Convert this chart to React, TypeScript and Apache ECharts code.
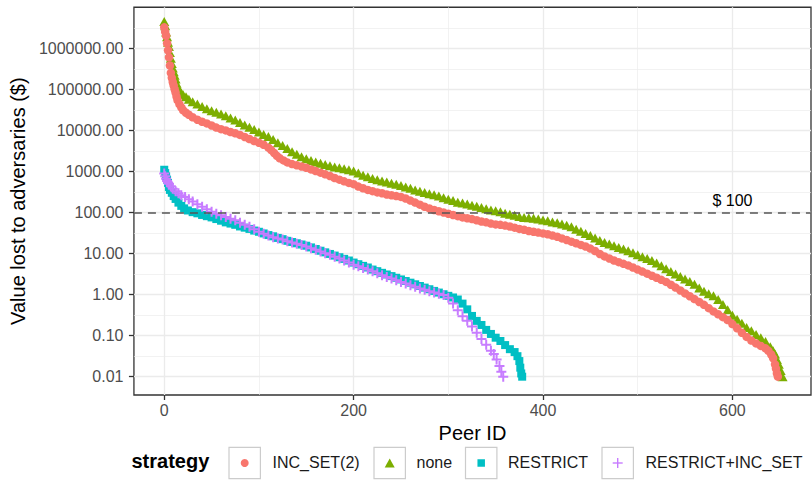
import React, { useEffect, useRef } from "react";
import * as echarts from "echarts";

// ---- data (Peer ID, value lost to adversaries in $) ----
const strategies = ["INC_SET(2)", "none", "RESTRICT", "RESTRICT+INC_SET"];
const strategyColors = ["#F8766D", "#7CAE00", "#00BFC4", "#C77CFF"];

const incSetData: [number, number][] = [
  [0, 3240000], [1, 2510000], [2, 2000000], [3, 1320000], [4, 891000], [5, 603000], [6, 380000], [7, 251000],
  [8, 191000], [9, 151000], [10, 123000], [11, 100000], [12, 83200], [13, 66100], [14, 55000], [16, 43700],
  [18, 36300], [20, 30900], [23, 26900], [26, 24000], [30, 20900], [35, 18200], [40, 16200], [45, 14800],
  [50, 13200], [55, 11700], [60, 10700], [65, 10000], [70, 9120], [75, 8510], [80, 7760], [85, 6920],
  [90, 6170], [95, 5500], [100, 5010], [105, 4470], [110, 3800], [113, 3310], [116, 2820], [119, 2400],
  [122, 2090], [126, 1860], [130, 1660], [135, 1510], [140, 1410], [145, 1320], [150, 1230], [155, 1120],
  [160, 1020], [165, 933], [170, 851], [175, 776], [180, 692], [185, 631], [190, 575], [195, 525], [200, 490],
  [205, 427], [210, 389], [215, 355], [220, 331], [225, 309], [230, 295], [235, 275], [240, 263], [245, 251],
  [250, 240], [255, 219], [260, 195], [265, 174], [270, 155], [275, 138], [280, 126], [285, 115],
  [290, 107], [295, 100], [300, 93.3], [305, 87.1], [310, 81.3], [315, 75.9], [320, 72.4], [325, 69.2],
  [330, 64.6], [335, 60.3], [340, 57.5], [345, 53.7], [350, 51.3], [355, 50.1], [360, 47.9], [365, 45.7],
  [370, 42.7], [375, 39.8], [380, 38.0], [385, 35.5], [390, 33.9], [395, 32.4], [400, 30.9], [405, 29.5],
  [410, 27.5], [415, 25.7], [420, 23.4], [425, 21.4], [430, 19.5], [435, 17.8], [440, 16.2], [445, 14.8],
  [450, 13.2], [455, 11.5], [460, 9.77], [465, 8.51], [470, 7.59], [475, 6.76], [480, 6.17], [485, 5.62],
  [490, 5.13], [495, 4.57], [500, 4.07], [505, 3.63], [510, 3.24], [515, 2.88], [520, 2.57], [525, 2.29],
  [530, 2.04], [535, 1.74], [540, 1.48], [545, 1.26], [550, 1.07], [555, 0.912], [560, 0.776], [565, 0.661],
  [570, 0.562], [575, 0.468], [580, 0.389], [585, 0.331], [590, 0.282], [595, 0.24], [600, 0.191], [605, 0.151],
  [610, 0.117], [615, 0.0933], [620, 0.0759], [625, 0.0646], [630, 0.0562], [635, 0.049], [638, 0.0427],
  [641, 0.0347], [643, 0.0282], [645, 0.02], [646, 0.0158], [647, 0.012], [648, 0.01],
];

const noneData: [number, number][] = [
  [0, 4470000], [1, 3550000], [2, 2510000], [3, 1910000], [4, 1410000], [5, 1100000], [6, 794000], [7, 575000],
  [8, 427000], [9, 331000], [10, 269000], [11, 219000], [12, 178000], [13, 141000], [14, 115000], [16, 95500],
  [18, 83200], [20, 74100], [23, 66100], [26, 57500], [30, 50100], [35, 43700], [40, 38000], [45, 33900],
  [50, 30200], [55, 27500], [60, 25100], [65, 22900], [70, 20000], [75, 17800], [80, 15500], [85, 13500],
  [90, 12000], [95, 10500], [100, 9120], [105, 7940], [110, 7080], [115, 6030], [120, 5010], [125, 4270],
  [130, 3630], [135, 3020], [140, 2630], [145, 2290], [150, 2040], [155, 1860], [160, 1700], [165, 1580],
  [170, 1480], [175, 1380], [180, 1290], [185, 1230], [190, 1170], [195, 1100], [200, 1020], [205, 912],
  [210, 813], [215, 741], [220, 676], [225, 631], [230, 589], [235, 550], [240, 513], [245, 490],
  [250, 457], [255, 417], [260, 389], [265, 355], [270, 331], [275, 309], [280, 288], [285, 269],
  [290, 251], [295, 229], [300, 209], [305, 195], [310, 178], [315, 170], [320, 162], [325, 151],
  [330, 141], [335, 132], [340, 123], [345, 115], [350, 110], [355, 105], [360, 95.5], [365, 91.2],
  [370, 85.1], [375, 79.4], [380, 75.9], [385, 74.1], [390, 72.4], [395, 69.2], [400, 66.1], [405, 63.1],
  [410, 58.9], [415, 56.2], [420, 52.5], [425, 49.0], [430, 44.7], [435, 38.9], [440, 34.7], [445, 30.9],
  [450, 27.5], [455, 24.0], [460, 20.9], [465, 18.6], [470, 17.0], [475, 15.5], [480, 14.1], [485, 12.9],
  [490, 11.7], [495, 10.5], [500, 9.33], [505, 8.32], [510, 7.59], [515, 6.76], [520, 5.89], [525, 5.01],
  [530, 4.27], [535, 3.63], [540, 3.16], [545, 2.75], [550, 2.4], [555, 2.09], [560, 1.78], [565, 1.45],
  [570, 1.2], [575, 1.05], [580, 0.933], [585, 0.759], [590, 0.575], [595, 0.427], [600, 0.316], [605, 0.251],
  [610, 0.2], [615, 0.158], [620, 0.132], [625, 0.107], [630, 0.0891], [635, 0.0724], [640, 0.0537],
  [643, 0.0427], [645, 0.0355], [647, 0.0263], [649, 0.02], [651, 0.0141], [653, 0.01],
];

const restrictData: [number, number][] = [
  [0, 1100], [1, 912], [2, 759], [3, 631], [4, 525], [5, 417], [6, 355], [8, 302], [10, 251], [12, 214],
  [15, 174], [18, 145], [21, 126], [25, 112], [30, 102], [35, 95.5], [40, 87.1], [45, 81.3], [50, 75.9],
  [55, 69.2], [60, 63.1], [65, 57.5], [70, 53.7], [75, 50.1], [80, 45.7], [85, 42.7], [90, 39.8], [95, 36.3],
  [100, 33.9], [105, 30.9], [110, 28.2], [115, 26.3], [120, 24.0], [125, 22.4], [130, 20.4], [135, 19.1],
  [140, 17.8], [145, 16.6], [150, 15.5], [155, 14.1], [160, 12.9], [165, 11.7], [170, 10.7], [175, 9.77],
  [180, 8.91], [185, 8.13], [190, 7.41], [195, 6.76], [200, 6.03], [205, 5.5], [210, 5.01], [215, 4.57],
  [220, 4.07], [225, 3.72], [230, 3.39], [235, 3.09], [240, 2.82], [245, 2.57], [250, 2.34], [255, 2.14],
  [260, 1.95], [265, 1.78], [270, 1.62], [275, 1.48], [280, 1.35], [285, 1.23], [290, 1.12], [295, 1.02],
  [300, 0.933], [305, 0.851], [310, 0.759], [315, 0.603], [320, 0.437], [325, 0.302], [330, 0.229],
  [335, 0.182], [340, 0.138], [345, 0.11], [350, 0.0891], [355, 0.0741], [360, 0.0589], [365, 0.0468],
  [370, 0.0398], [373, 0.0316], [375, 0.024], [376, 0.0166], [377, 0.012], [378, 0.01],
];

const restrictIncSetData: [number, number][] = [
  [0, 891], [1, 759], [2, 661], [3, 589], [4, 537], [5, 501], [7, 437], [9, 380], [12, 331], [15, 295],
  [18, 263], [22, 240], [26, 209], [30, 186], [35, 158], [40, 138], [45, 120], [50, 105], [55, 93.3],
  [60, 85.1], [65, 77.6], [70, 70.8], [75, 64.6], [80, 56.2], [85, 50.1], [90, 44.7], [95, 38.9], [100, 33.9],
  [105, 30.2], [110, 27.5], [115, 25.1], [120, 23.4], [125, 21.9], [130, 20.0], [135, 18.6], [140, 17.4],
  [145, 16.2], [150, 14.8], [155, 13.5], [160, 12.3], [165, 11.2], [170, 10.2], [175, 9.33], [180, 8.32],
  [185, 7.59], [190, 6.76], [195, 6.03], [200, 5.37], [205, 4.9], [210, 4.47], [215, 4.07], [220, 3.72],
  [225, 3.31], [230, 2.95], [235, 2.69], [240, 2.45], [245, 2.24], [250, 2.04], [255, 1.86], [260, 1.7],
  [265, 1.55], [270, 1.41], [275, 1.32], [280, 1.2], [285, 1.12], [290, 1.05], [295, 0.977], [300, 0.832],
  [305, 0.603], [310, 0.417], [315, 0.295], [320, 0.229], [325, 0.166], [330, 0.117], [335, 0.0832],
  [340, 0.0603], [345, 0.0427], [348, 0.0355], [351, 0.0263], [354, 0.0182], [356, 0.0132], [358, 0.01],
];

const xTicks = [0, 200, 400, 600];
const yTicks = [0.01, 0.1, 1, 10, 100, 1000, 10000, 100000, 1000000];
const thresholdValue = 100;
const thresholdLabel = "$ 100";
const thresholdLabelAt: [number, number] = [600, 200];

const FONT = "'Liberation Sans', Arial, Helvetica, sans-serif";
const PLUS_PATH = "path://M4,0H6V4H10V6H6V10H4V6H0V4H4Z";

const symbolFor: Record<string, { symbol: string; size: number | number[] }> = {
  "INC_SET(2)": { symbol: "circle", size: 8.5 },
  none: { symbol: "triangle", size: [10, 9] },
  RESTRICT: { symbol: "rect", size: 8 },
  "RESTRICT+INC_SET": { symbol: PLUS_PATH, size: 10 },
};

const seriesData: Record<string, [number, number][]> = {
  "INC_SET(2)": incSetData,
  none: noneData,
  RESTRICT: restrictData,
  "RESTRICT+INC_SET": restrictIncSetData,
};

// drawing order (none under INC_SET, RESTRICT under RESTRICT+INC_SET)
const drawOrder = ["none", "INC_SET(2)", "RESTRICT", "RESTRICT+INC_SET"];

function buildLegend(): any[] {
  const cy = 463;
  const key = 31.4;
  const els: any[] = [
    {
      type: "text",
      left: 131.5,
      top: cy - 12,
      style: { text: "strategy", font: `bold 20px ${FONT}`, fill: "#000", textVerticalAlign: "top" },
    },
  ];
  const boxLefts = [229, 374, 465.5, 602];
  const textLefts = [272.5, 416.5, 508, 645.5];
  strategies.forEach((s, i) => {
    const bx = boxLefts[i];
    const cx = bx + key / 2;
    const color = strategyColors[i];
    els.push({
      type: "rect",
      shape: { x: bx, y: cy - key / 2, width: key, height: key },
      style: { fill: "#fff", stroke: "#CCCCCC", lineWidth: 1.2 },
    });
    if (s === "INC_SET(2)") {
      els.push({ type: "circle", shape: { cx, cy, r: 4 }, style: { fill: color } });
    } else if (s === "none") {
      els.push({
        type: "polygon",
        shape: { points: [[cx, cy - 4.5], [cx + 5, cy + 4.5], [cx - 5, cy + 4.5]] },
        style: { fill: color },
      });
    } else if (s === "RESTRICT") {
      els.push({ type: "rect", shape: { x: cx - 3.75, y: cy - 3.75, width: 7.5, height: 7.5 }, style: { fill: color } });
    } else {
      els.push({ type: "rect", shape: { x: cx - 5, y: cy - 0.7, width: 10, height: 1.4 }, style: { fill: color } });
      els.push({ type: "rect", shape: { x: cx - 0.7, y: cy - 5, width: 1.4, height: 10 }, style: { fill: color } });
    }
    els.push({
      type: "text",
      left: textLefts[i],
      top: cy - 9,
      style: { text: s, font: `16px ${FONT}`, fill: "#1a1a1a", textVerticalAlign: "top" },
    });
  });
  return els;
}

export default function App() {
  const ref = useRef<HTMLDivElement>(null);
  useEffect(() => {
    if (!ref.current) return;
    const chart = echarts.init(ref.current, null, { renderer: "svg" });
    const series: any[] = drawOrder.map((name, k) => {
      const i = strategies.indexOf(name);
      return {
        type: "scatter",
        name,
        data: seriesData[name].map(([id, v]) => [id, Math.log10(v)]),
        symbol: symbolFor[name].symbol,
        symbolSize: symbolFor[name].size,
        itemStyle: { color: strategyColors[i], opacity: 1 },
        silent: true,
        z: 2 + k * 0.1,
        emphasis: { disabled: true },
      };
    });
    series.push({
      type: "scatter",
      name: "threshold",
      data: [],
      silent: true,
      z: 3,
      markLine: {
        silent: true,
        symbol: ["none", "none"],
        label: { show: false },
        lineStyle: { color: "#555555", width: 1.5, type: [8, 6] },
        data: [{ yAxis: Math.log10(thresholdValue) }],
      },
      markPoint: {
        silent: true,
        symbol: "circle",
        symbolSize: 0,
        label: { show: true, formatter: thresholdLabel, color: "#000", fontSize: 16, fontFamily: FONT, position: "inside" },
        data: [{ coord: [thresholdLabelAt[0], Math.log10(thresholdLabelAt[1])] }],
      },
    });

    const option: any = {
      animation: false,
      backgroundColor: "#fff",
      textStyle: { fontFamily: FONT },
      grid: {
        left: 129,
        top: 7.25,
        width: 682,
        height: 387.75,
        show: true,
        borderColor: "#333333",
        borderWidth: 1.3,
        backgroundColor: "transparent",
        containLabel: false,
      },
      xAxis: {
        type: "value",
        min: -32,
        max: 683,
        splitNumber: 3,
        name: "Peer ID",
        nameLocation: "middle",
        nameGap: 28,
        nameTextStyle: { fontSize: 20, color: "#000", fontFamily: FONT },
        axisLine: { show: false, onZero: false },
        axisTick: { show: true, length: 5, customValues: xTicks, lineStyle: { color: "#333333", width: 1.3 } },
        axisLabel: { customValues: xTicks, fontSize: 16, color: "#4D4D4D", margin: 7, fontFamily: FONT },
        splitLine: { show: true, lineStyle: { color: "#EBEBEB", width: 1.3 } },
        minorTick: { show: false, splitNumber: 2 },
        minorSplitLine: { show: true, lineStyle: { color: "#EBEBEB", width: 0.65 } },
      },
      yAxis: {
        type: "value",
        min: -2.446,
        max: 7,
        splitNumber: 9,
        name: "Value lost to adversaries ($)",
        nameLocation: "middle",
        nameGap: 95,
        nameTextStyle: { fontSize: 20, color: "#000", fontFamily: FONT },
        axisLine: { show: false, onZero: false },
        axisTick: {
          show: true,
          length: 5,
          customValues: yTicks.map((v) => Math.log10(v)),
          lineStyle: { color: "#333333", width: 1.3 },
        },
        axisLabel: {
          customValues: yTicks.map((v) => Math.log10(v)),
          fontSize: 16,
          color: "#4D4D4D",
          margin: 10.5,
          fontFamily: FONT,
          formatter: (v: number) => Math.pow(10, v).toFixed(2),
        },
        splitLine: { show: true, lineStyle: { color: "#EBEBEB", width: 1.3 } },
        minorTick: { show: false, splitNumber: 2 },
        minorSplitLine: { show: true, lineStyle: { color: "#EBEBEB", width: 0.65 } },
      },
      legend: { show: false },
      graphic: buildLegend(),
      series,
    };
    chart.setOption(option);
    return () => chart.dispose();
  }, []);
  return (
    <div
      ref={ref}
      style={{ position: "fixed", left: 0, top: 0, width: 812, height: 504, background: "#fff" }}
    />
  );
}
